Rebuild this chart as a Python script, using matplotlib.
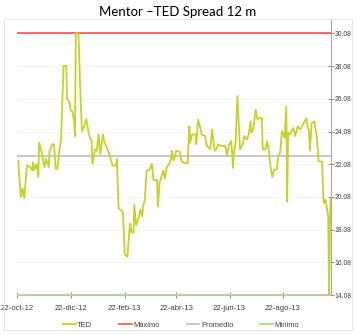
import numpy as np
import pandas as pd
import matplotlib
matplotlib.use("Agg")
import matplotlib.pyplot as plt
import matplotlib.dates as mdates
from matplotlib.patches import Rectangle

# --- datos (dias desde 22-oct-12, valor TED) ---
start_date = "2012-10-22"
days = [1, 4, 6, 8, 11, 15, 17, 18, 19, 22, 24, 25, 28, 31, 33, 36, 37, 40, 42, 44,
        46, 48, 50, 53, 56, 57, 60, 61, 63, 65, 66, 67, 70, 72, 74, 76, 79, 82, 85, 86,
        89, 91, 93, 95, 98, 100, 104, 107, 109, 113, 114, 116, 119, 121, 123, 126, 129, 131, 133, 134,
        136, 139, 141, 143, 144, 146, 148, 151, 154, 156, 160, 161, 163, 165, 167, 169, 171, 174, 176, 177,
        179, 182, 186, 188, 192, 195, 197, 198, 200, 204, 205, 207, 210, 211, 215, 217, 221, 223, 226, 228,
        230, 233, 236, 238, 240, 242, 245, 247, 248, 250, 252, 255, 258, 260, 263, 265, 267, 268, 270, 273,
        275, 277, 280, 281, 284, 286, 288, 290, 292, 294, 297, 299, 301, 303, 305, 306, 308, 309, 310, 312,
        316, 318, 321, 324, 328, 331, 332, 334, 335, 337, 340, 341, 343, 345, 347, 349, 350, 351, 353, 355,
        356, 357, 358, 359]
ted = [22.31, 20.07, 20.6, 20.0, 22.0, 21.9, 21.7, 22.2, 21.7, 22.1, 21.3, 23.4, 22.8, 21.9, 22.4, 21.9, 22.9, 23.3, 23.3, 21.8,
       21.8, 22.9, 23.5, 28.1, 28.1, 26.1, 25.8, 25.4, 25.3, 24.75, 23.8, 30.08, 30.08, 26.8, 24.1, 24.3, 24.85, 23.9, 23.5, 22.1,
       23.0, 22.9, 23.9, 22.7, 23.9, 23.4, 22.9, 22.4, 22.0, 22.0, 22.4, 19.4, 19.25, 19.1, 16.6, 16.4, 18.45, 17.9, 17.9, 19.6,
       18.35, 18.8, 19.3, 18.9, 19.5, 19.9, 21.7, 21.7, 22.1, 21.1, 21.1, 19.5, 21.0, 21.3, 21.7, 21.2, 21.9, 22.1, 22.4, 22.9,
       22.3, 22.9, 22.85, 22.25, 22.15, 22.15, 24.4, 23.4, 23.9, 23.9, 23.3, 24.8, 24.2, 23.9, 23.8, 23.2, 23.0, 24.2, 22.9, 23.0,
       23.3, 23.2, 23.2, 23.2, 22.6, 23.2, 23.5, 21.85, 22.8, 23.4, 26.25, 22.98, 23.28, 23.8, 23.6, 23.9, 24.7, 24.0, 24.2, 25.4,
       24.8, 24.9, 24.9, 22.98, 22.98, 23.5, 22.9, 21.85, 21.3, 21.75, 21.75, 22.6, 22.8, 24.1, 23.9, 23.7, 25.6, 19.8, 24.0, 23.9,
       24.3, 23.8, 24.4, 24.2, 24.6, 24.9, 24.5, 24.1, 22.9, 24.6, 24.7, 24.4, 23.7, 22.25, 22.25, 22.25, 20.4, 19.7, 19.9, 19.2,
       18.9, 14.08, 18.7, 20.0]

maximo = 30.08
promedio = 22.6
minimo = 14.08

y_ticks = [14.08, 16.08, 18.08, 20.08, 22.08, 24.08, 26.08, 28.08, 30.08]
x_tick_dates = ["2012-10-22", "2012-12-22", "2013-02-22", "2013-04-22", "2013-06-22", "2013-08-22"]
x_tick_labels = ["22-oct-12", "22-dic-12", "22-feb-13", "22-abr-13", "22-jun-13", "22-ago-13"]

fechas = pd.Timestamp(start_date) + pd.to_timedelta(days, unit="D")

# --- figura ---
fig = plt.figure(figsize=(3.57, 3.35), dpi=100)
fig.patches.append(Rectangle((4 / 357, 5 / 335), 348 / 357, 311 / 335, transform=fig.transFigure,
                             fill=False, edgecolor="#e6e6e6", linewidth=0.8))
ax = fig.add_axes([17.3 / 357, 1 - 295 / 335, (330.5 - 17.3) / 357, 275 / 335])

x0 = pd.Timestamp(start_date)
x1 = x0 + pd.Timedelta(days=358.6)

ax.plot(fechas, ted, color="#c6d12a", linewidth=1.3, label="TED", zorder=4)
ax.plot([x0, x1], [maximo, maximo], color="#ff5a5a", linewidth=1.3, label="Máximo", zorder=3)
ax.plot([x0, x1], [promedio, promedio], color="#c4c4c4", linewidth=1.3, label="Promedio", zorder=3)
ax.plot([x0, x1], [minimo, minimo], color="#b4e08c", linewidth=1.6, label="Mínimo", zorder=3)

ax.set_xlim(x0, x1)
ax.set_ylim(14.08, 30.9)

# ejes al estilo Excel: eje Y a la derecha, sin marco
for s in ["top", "left"]:
    ax.spines[s].set_visible(False)
ax.spines["right"].set_color("#a6a6a6")
ax.spines["bottom"].set_color("#bfbfbf")
ax.spines["right"].set_linewidth(0.8)
ax.yaxis.tick_right()

narrow = ["Liberation Sans Narrow", "Liberation Sans", "DejaVu Sans"]
ax.set_yticks(y_ticks)
ax.set_yticklabels([f"{v:.2f}" for v in y_ticks], family=narrow, size=4.9, color="#404040")
ax.set_xticks(pd.to_datetime(x_tick_dates))
ax.set_xticklabels(x_tick_labels, family=narrow, size=5.6, color="#404040")
ax.tick_params(axis="both", direction="inout", length=4, width=0.7, color="#8c8c8c", pad=1)
ax.tick_params(axis="x", pad=5)
ax.grid(axis="y", color="#f3f3f3", linewidth=0.6)
ax.set_axisbelow(True)

fig.text(178 / 357, 1 - 12 / 335, "Mentor \u2013TED Spread 12 m", ha="center", va="center",
         family=["Lato", "DejaVu Sans"], fontsize=9.5, color="black")

leg = fig.legend(loc="center", bbox_to_anchor=(181 / 357, 1 - 325 / 335), ncol=4, frameon=False,
                 prop=dict(family=narrow, size=5.4),
                 handlelength=1.7, handletextpad=0.2, columnspacing=3.6)
for t in leg.get_texts():
    t.set_color("#404040")

fig.savefig("out.png", dpi=100)
